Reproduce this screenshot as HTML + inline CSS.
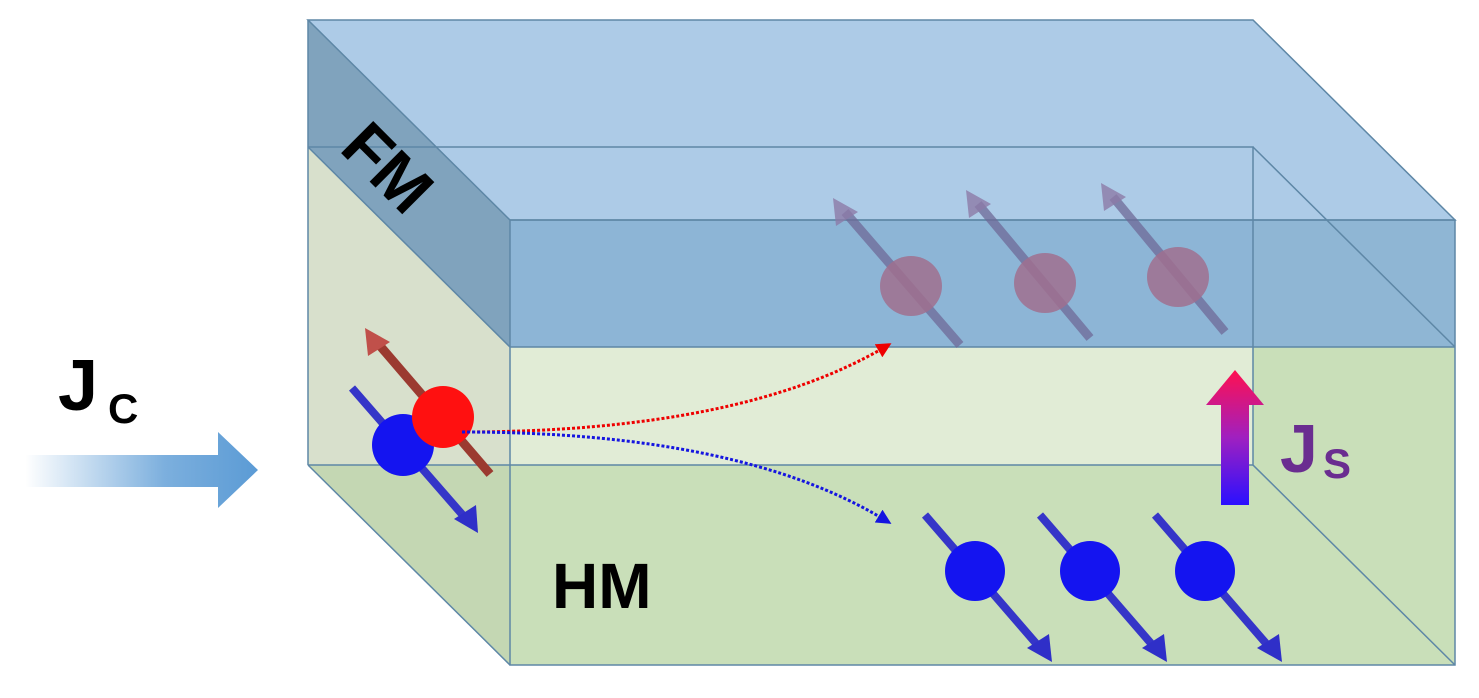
<!DOCTYPE html>
<html><head><meta charset="utf-8"><style>body{margin:0;background:#fff}svg{display:block}</style></head><body>
<svg width="1479" height="698" viewBox="0 0 1479 698" xmlns="http://www.w3.org/2000/svg" font-family="Liberation Sans, sans-serif">
<defs>
<linearGradient id="jc" x1="0" x2="1" y1="0" y2="0"><stop offset="0" stop-color="#5b9bd5" stop-opacity="0"/><stop offset="0.6" stop-color="#5b9bd5" stop-opacity="0.8"/><stop offset="1" stop-color="#5b9bd5"/></linearGradient>
<linearGradient id="js" x1="0" x2="0" y1="1" y2="0"><stop offset="0" stop-color="#2a10ff"/><stop offset="0.5" stop-color="#a020c0"/><stop offset="1" stop-color="#ff1050"/></linearGradient>
<marker id="ar" viewBox="0 0 10 10" refX="5" refY="5" markerWidth="5" markerHeight="5" orient="auto"><path d="M0,0 L10,5 L0,10 z" fill="#e00"/></marker>
<marker id="ab" viewBox="0 0 10 10" refX="5" refY="5" markerWidth="5" markerHeight="5" orient="auto"><path d="M0,0 L10,5 L0,10 z" fill="#1515e0"/></marker>
</defs>
<!-- Jc -->
<text x="58" y="410" font-size="72" font-weight="bold">J</text>
<text x="108" y="423" font-size="42" font-weight="bold">C</text>
<path d="M25,455 H218 V432 L258,470 L218,508 V487 H25 Z" fill="url(#jc)"/>
<!-- HM -->
<rect x="510" y="347" width="945" height="318" fill="#c9dfb9"/>
<rect x="510" y="347" width="743" height="118" fill="#e1ecd6"/>
<polygon points="308,147 510,347 510,665 308,465" fill="#d8e0cc"/>
<polygon points="308,465 510,465 510,665" fill="#c4d7b3"/>
<!-- FM -->
<polygon points="308,20 1253,20 1455,220 510,220" fill="#adcbe7"/>
<polygon points="308,20 510,220 510,347 308,147" fill="#80a3bd"/>
<rect x="510" y="220" width="945" height="127" fill="#8db5d6"/>
<rect x="1253" y="220" width="202" height="127" fill="#8fb6d4"/>
<!-- edges -->
<g stroke="#5e87a6" stroke-width="1.5" fill="none">
<polygon points="308,20 1253,20 1455,220 510,220"/>
<line x1="308" y1="20" x2="308" y2="465"/>
<line x1="308" y1="147" x2="510" y2="347"/>
<line x1="308" y1="465" x2="510" y2="665"/>
<polyline points="308,147 1253,147 1253,465 1455,665"/>
<line x1="308" y1="465" x2="1253" y2="465"/>
<line x1="1253" y1="147" x2="1455" y2="347"/>
<rect x="510" y="220" width="945" height="445"/>
<line x1="510" y1="347" x2="1455" y2="347"/>
</g>
<text transform="translate(338,150) rotate(45)" font-size="66" font-weight="bold">FM</text>
<text x="552" y="608" font-size="64" font-weight="bold">HM</text>
<!-- up spins in FM -->
<g stroke="#6f6a98" stroke-width="9" opacity="0.75">
<line x1="960" y1="345" x2="845" y2="212"/>
<line x1="1090" y1="338" x2="978" y2="204"/>
<line x1="1225" y1="332" x2="1113" y2="197"/>
</g>
<g fill="#8c7aa8" opacity="0.8">
<polygon points="833,198 858,212 836,226"/>
<polygon points="966,190 991,204 969,218"/>
<polygon points="1101,183 1126,197 1104,211"/>
</g>
<g fill="#a0708f" opacity="0.85">
<ellipse cx="911" cy="286" rx="31" ry="30"/>
<ellipse cx="1045" cy="283" rx="31" ry="30"/>
<ellipse cx="1178" cy="277" rx="31" ry="30"/>
</g>
<!-- down spins in HM -->
<g stroke="#3535c8" stroke-width="8">
<line x1="925" y1="515" x2="1040" y2="648"/>
<line x1="1040" y1="515" x2="1155" y2="648"/>
<line x1="1155" y1="515" x2="1270" y2="648"/>
</g>
<g fill="#2f2fc8">
<polygon points="1052,662 1027,648 1049,634"/>
<polygon points="1167,662 1142,648 1164,634"/>
<polygon points="1282,662 1257,648 1279,634"/>
</g>
<g fill="#1414f0">
<circle cx="975" cy="571" r="30"/>
<circle cx="1090" cy="571" r="30"/>
<circle cx="1205" cy="571" r="30"/>
</g>
<!-- left spins -->
<line x1="490" y1="474" x2="375" y2="340" stroke="#9b3a30" stroke-width="9"/>
<polygon points="365,328 390,342 368,356" fill="#c0504a"/>
<line x1="352" y1="388" x2="467" y2="520" stroke="#3535c8" stroke-width="8"/>
<polygon points="478,533 454,519 476,505" fill="#2f2fc8"/>
<circle cx="403" cy="445" r="31" fill="#1414f0"/>
<circle cx="443" cy="417" r="31" fill="#ff1010"/>
<!-- dotted paths -->
<path d="M462,432 Q740,432 885,347" fill="none" stroke="#e00" stroke-width="3" stroke-dasharray="3,2" marker-end="url(#ar)"/>
<path d="M462,432 Q740,432 885,520" fill="none" stroke="#1515e0" stroke-width="3" stroke-dasharray="3,2" marker-end="url(#ab)"/>
<!-- Js -->
<path d="M1221,505 V405 H1206 L1235,370 L1264,405 H1249 V505 Z" fill="url(#js)"/>
<text x="1280" y="472" font-size="68" font-weight="bold" fill="#6a2d90">J</text>
<text x="1323" y="478" font-size="42" font-weight="bold" fill="#6a2d90">S</text>
</svg>
</body></html>
